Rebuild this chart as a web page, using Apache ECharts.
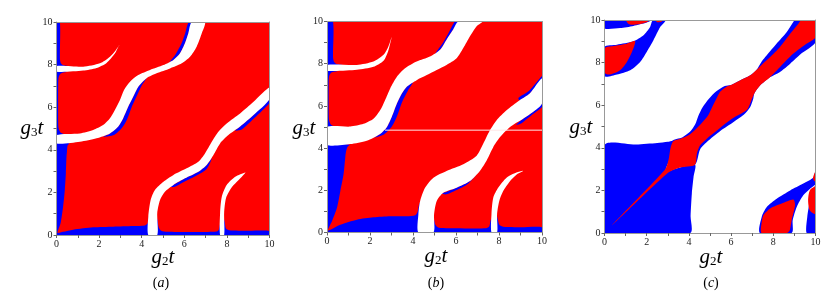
<!DOCTYPE html>
<html><head><meta charset="utf-8">
<script src="https://cdn.jsdelivr.net/npm/echarts@6/dist/echarts.min.js"></script>
<style>html,body{margin:0;padding:0;background:#fff}#c{width:830px;height:295px}</style>
</head><body><div id="c"></div>
<script>
// ---------- data (region outlines in g2t / g3t units) ----------
const X_TICKS = [0,1,2,3,4,5,6,7,8,9,10];
const PANEL_LABELS = ['a','b','c'];
const FULL = [[0,0],[10,0],[10,10],[0,10]];

// Panel (a)
const A_BLUE_TOPLEFT = [[0,10],[0.16,10],[0.16,8.3],[0.2,8.08],[0.32,7.97],[0.6,7.93],[0,7.93]];
const A_BLUE_MIDLEFT = [[0,7.67],[0.5,7.66],[0.2,7.58],[0.1,7.4],[0.08,7.1],[0.08,5.3],[0.1,5.0],[0.2,4.8],[0.45,4.71],[0,4.69]];
const A_BLUE_BOTLEFT = [[0,0],[0,4.3],[0.6,4.3],[0.52,4.2],[0.49,3.9],[0.47,3.68],[0.44,2.9],[0.39,2.11],[0.31,1.33],[0.19,0.55],[0.05,0.1],[0.3,0.15],[0.78,0.25],[1.72,0.36],[2.66,0.39],[3.6,0.42],[4.15,0.45],[4.28,0.55],[4.35,0.9],[4.4,0]];
const A_BLUE_BOTMID = [[4.65,0],[4.65,1.0],[4.74,0.7],[4.8,0.35],[4.92,0.2],[5.2,0.15],[6.7,0.14],[7.5,0.16],[7.62,0.25],[7.68,0.5],[7.75,0.5],[7.75,0]];
const A_BLUE_BOTRIGHT = [[7.8,0],[7.8,1.0],[7.9,0.6],[7.95,0.32],[8.1,0.22],[9,0.2],[10,0.19],[10,0]];
const A_BLUE_BAND1_LOW = [[2.2,4.62],[2.51,4.77],[2.9,5.09],[3.13,5.48],[3.37,6.03],[3.6,6.49],[3.84,6.96],[4.23,7.36],[4.0,7.02],[3.78,6.55],[3.52,5.98],[3.3,5.4],[3.05,5.0],[2.7,4.7]];
const A_BLUE_BAND1_UP = [[5.3,8.1],[5.49,8.22],[5.8,8.53],[6.03,9.0],[6.19,9.47],[6.35,10],[6.2,10],[6.05,9.5],[5.85,8.95],[5.6,8.5]];
const A_BLUE_BAND2_LOW = [[5.2,2.3],[5.49,2.35],[6.03,2.66],[6.66,2.97],[7.05,3.29],[7.3,3.6],[7.05,3.1],[6.6,2.8],[6.0,2.5],[5.5,2.25]];
const A_BLUE_BAND2_RIGHT = [[8.4,4.9],[8.62,5.09],[9.25,5.63],[10,6.37],[10,6.2],[9.3,5.5],[8.7,4.95]];
const A_WHITE_ARC_TL = [[0,7.93],[1.25,7.9],[2.04,8.06],[2.51,8.37],[2.8,8.7],[2.96,8.93],[2.9,8.83],[2.74,8.52],[2.35,8.08],[1.88,7.84],[1.25,7.72],[0,7.67]];
const A_WHITE_BAND1 = [[0,4.69],[1.1,4.77],[1.72,4.93],[2.19,5.16],[2.51,5.48],[2.74,5.87],[2.98,6.34],[3.17,6.81],[3.45,7.2],[3.84,7.51],[4.39,7.75],[5.02,7.98],[5.49,8.22],[5.8,8.53],[6.03,9.0],[6.19,9.47],[6.35,10],[6.97,10],[6.82,9.47],[6.58,8.84],[6.27,8.37],[5.88,8.06],[5.33,7.82],[4.7,7.59],[4.23,7.36],[3.84,6.96],[3.6,6.49],[3.37,6.03],[3.13,5.48],[2.9,5.09],[2.51,4.77],[1.88,4.54],[1.1,4.38],[0,4.3]];
const A_WHITE_BAND2 = [[4.31,0],[4.31,0.86],[4.42,1.64],[4.62,2.11],[5.02,2.5],[5.49,2.82],[6.11,3.13],[6.66,3.44],[6.97,3.83],[7.29,4.38],[7.6,4.85],[7.99,5.24],[8.62,5.71],[9.25,6.26],[10,6.93],[10,6.37],[9.25,5.63],[8.62,5.09],[8.07,4.69],[7.68,4.3],[7.37,3.76],[7.05,3.29],[6.66,2.97],[6.03,2.66],[5.49,2.35],[5.09,2.03],[4.86,1.64],[4.73,1.02],[4.73,0]];
const A_WHITE_ARC_BR = [[7.68,0],[7.68,1.02],[7.76,1.8],[7.99,2.35],[8.39,2.74],[8.87,2.94],[8.84,2.89],[8.54,2.57],[8.23,2.24],[7.96,1.74],[7.87,1.02],[7.87,0]];

// Panel (b)
const B_BLUE_TOPLEFT = [[0,10],[0.28,10],[0.28,8.3],[0.33,8.08],[0.45,7.98],[0.7,7.94],[0,7.94]];
const B_BLUE_MIDLEFT = [[0,7.67],[0.5,7.66],[0.2,7.58],[0.1,7.4],[0.08,7.1],[0.08,5.6],[0.1,5.3],[0.2,5.1],[0.45,5.0],[0,4.99]];
const B_BLUE_BOTLEFT = [[0,0],[0,4.16],[1.05,4.16],[0.95,4.05],[0.88,3.8],[0.85,3.56],[0.77,2.76],[0.62,1.96],[0.46,1.16],[0.23,0.53],[0.05,0.1],[0.62,0.37],[1.39,0.61],[2.16,0.72],[2.94,0.77],[3.71,0.77],[4.1,0.82],[4.22,1.0],[4.3,1.4],[4.35,0]];
const B_BLUE_BOTMID = [[4.9,0],[4.9,1.0],[4.98,0.6],[5.05,0.35],[5.2,0.22],[6,0.2],[7.4,0.2],[7.55,0.3],[7.62,0.6],[7.7,0.6],[7.7,0]];
const B_BLUE_BOTRIGHT = [[7.85,0],[7.85,1.0],[7.95,0.6],[8.02,0.35],[8.2,0.27],[9,0.25],[10,0.25],[10,0]];
const B_BLUE_BAND1_LOW = [[2.2,4.5],[2.47,4.67],[2.78,4.99],[3.01,5.47],[3.25,6.11],[3.48,6.59],[3.71,6.91],[4.0,7.12],[3.75,6.7],[3.5,6.2],[3.25,5.5],[3.0,5.0],[2.65,4.65]];
const B_BLUE_BAND1_UP = [[5.0,8.4],[5.26,8.66],[5.56,9.14],[5.87,9.62],[6.11,10],[5.95,10],[5.7,9.55],[5.4,9.0],[5.15,8.65]];
const B_BLUE_BAND2_LOW = [[5.2,1.95],[5.41,1.88],[6.03,2.12],[6.65,2.44],[6.95,2.75],[6.55,2.3],[6.0,2.0],[5.5,1.8]];
const B_BLUE_BAND2_RIGHT = [[8.8,5.1],[9.12,5.39],[9.58,5.71],[10,6.11],[10,5.95],[9.5,5.55],[9.0,5.15]];
const B_BLUE_BAND2_UP = [[8.96,6.27],[9.43,6.59],[10,7.3],[10,7.42],[9.4,6.72],[8.9,6.38]];
const B_WHITE_ARC_TL = [[0,7.94],[1.39,7.94],[2.16,8.1],[2.63,8.42],[2.85,8.8],[3.01,9.27],[2.95,9.0],[2.84,8.58],[2.63,8.14],[2.16,7.85],[1.39,7.71],[0,7.67]];
const B_WHITE_BAND1 = [[0,4.99],[1.08,5.02],[1.7,5.15],[2.16,5.39],[2.47,5.79],[2.7,6.27],[2.94,6.83],[3.25,7.38],[3.63,7.78],[4.17,8.1],[4.79,8.34],[5.26,8.66],[5.56,9.14],[5.87,9.62],[6.11,10],[7.23,10],[6.96,9.78],[6.65,9.3],[6.34,8.74],[6.03,8.26],[5.56,7.94],[5.1,7.7],[4.64,7.46],[4.17,7.22],[3.71,6.91],[3.48,6.59],[3.25,6.11],[3.01,5.47],[2.78,4.99],[2.47,4.67],[1.85,4.35],[1.08,4.19],[0,4.16]];
const B_WHITE_BAND2 = [[4.25,0],[4.25,0.85],[4.33,1.48],[4.56,2.12],[4.95,2.6],[5.56,2.92],[6.34,3.24],[6.96,3.64],[7.26,4.19],[7.57,4.83],[7.88,5.31],[8.35,5.79],[8.96,6.27],[9.43,6.59],[10,7.3],[10,6.11],[9.58,5.71],[9.12,5.39],[8.5,4.99],[8.04,4.51],[7.73,4.04],[7.42,3.4],[7.11,2.92],[6.65,2.44],[6.03,2.12],[5.41,1.88],[5.1,1.48],[4.98,0.85],[4.95,0]];
const B_WHITE_ARC_BR = [[7.65,0],[7.65,0.85],[7.73,1.64],[7.96,2.12],[8.35,2.6],[8.81,2.84],[9.12,2.93],[9.08,2.89],[8.81,2.74],[8.5,2.42],[8.19,1.95],[8.01,1.48],[7.91,0.85],[7.91,0]];
const B_LINE = [[2.7,4.85],[10,4.85]];

// Panel (c)
const C_BLUE_SQUARE = [[0,0],[0,4.12],[1.5,4.15],[2.5,4.22],[3.0,4.28],[3.27,4.32],[3.1,3.5],[2.9,2.9],[3.5,3.05],[4.29,3.21],[4.22,2.63],[4.14,1.85],[4.08,0.8],[4.06,0]];
const C_BLUE_BAND = [[3.2,4.3],[3.7,4.5],[4.05,4.75],[4.3,5.1],[4.45,5.5],[4.65,5.9],[4.95,6.3],[5.3,6.65],[5.7,6.9],[6.0,6.95],[6.42,7.16],[6.89,7.39],[7.2,7.65],[7.45,8.05],[7.68,8.33],[8.15,8.88],[8.63,9.42],[8.94,9.89],[9.02,10],[10,10],[10,8.95],[9.3,8.4],[8.8,7.95],[8.3,7.55],[7.84,7.31],[7.37,6.92],[7.1,6.55],[7.05,6.3],[6.9,5.9],[6.6,5.55],[6.1,5.2],[5.5,4.8],[4.85,4.27],[4.53,3.92],[4.29,3.21],[3.5,3.2]];
const C_RED_BAND = [[0.36,0.36],[2.87,2.98],[3.03,3.41],[3.14,4.04],[3.27,4.32],[3.6,4.42],[4.0,4.6],[4.3,4.85],[4.6,5.15],[4.9,5.5],[5.1,5.9],[5.3,6.3],[5.5,6.65],[5.8,6.88],[6.0,6.95],[6.42,7.16],[6.89,7.39],[7.2,7.65],[7.5,7.95],[7.84,8.25],[8.31,8.72],[8.79,9.34],[9.18,9.81],[9.34,10],[10,10],[10,9.19],[9.57,8.88],[8.94,8.41],[8.31,7.78],[7.84,7.31],[7.37,6.92],[7.1,6.55],[6.95,6.2],[6.8,5.85],[6.6,5.68],[6.1,5.4],[5.63,5.06],[5.24,4.74],[4.85,4.43],[4.53,4.12],[4.38,3.73],[4.29,3.21],[3.58,3.07],[2.97,2.79]];
const C_BLUE_TOPSTRIP = [[0,10],[0,9.6],[0.74,9.62],[1.37,9.72],[2.0,9.88],[2.24,10]];
const C_RED_TOPSTRIP = [[1.03,10],[1.1,9.85],[1.25,9.78],[1.6,9.8],[2.0,9.9],[2.15,10]];
const C_BLUE_BLOB = [[0,8.73],[0.59,8.84],[1.37,9.0],[1.85,9.28],[2.16,9.67],[2.3,10],[2.9,10],[2.64,9.67],[2.32,9.05],[2.0,8.5],[1.69,8.03],[1.22,7.64],[0.59,7.44],[0,7.37]];
const C_RED_BLOB = [[0.03,8.68],[0.43,8.78],[1.06,8.89],[1.45,9.0],[1.3,8.5],[1.06,8.03],[0.74,7.64],[0.27,7.44],[0.03,7.5]];
const C_RED_TOPSMALL = [[2.4,10],[2.5,9.9],[2.7,9.92],[2.78,10]];
const C_BLUE_ARC1 = [[7.37,0],[7.45,0.75],[7.69,1.22],[8.16,1.61],[8.8,2.0],[9.42,2.32],[9.9,2.6],[10,2.95],[10,2.3],[9.74,2.08],[9.42,1.77],[9.11,1.22],[8.92,0.6],[8.87,0]];
const C_RED_ARC1 = [[7.45,0],[7.45,0.5],[7.53,0.83],[7.85,1.15],[8.4,1.38],[8.95,1.57],[9.03,1.3],[8.87,0.6],[8.78,0.13],[8.64,0]];
const C_RED_EDGE = [[10,2.4],[9.88,2.55],[9.95,2.8],[10,2.9]];
const C_BLUE_ARC2 = [[9.58,0],[9.61,0.75],[9.74,1.53],[9.9,2.0],[10,2.25],[10,0]];
const C_RED_ARC2 = [[10,0.9],[9.73,1.06],[9.65,1.53],[9.73,2.0],[10,2.17]];

// ---------- styling / assembly ----------
const RED = '#ff0000', BLUE = '#0000ff', WHITE = '#ffffff';
const LAYERS = [
  [[FULL,RED],[A_BLUE_TOPLEFT,BLUE],[A_BLUE_MIDLEFT,BLUE],[A_BLUE_BOTLEFT,BLUE],[A_BLUE_BOTMID,BLUE],[A_BLUE_BOTRIGHT,BLUE],
   [A_BLUE_BAND1_LOW,BLUE],[A_BLUE_BAND1_UP,BLUE],[A_BLUE_BAND2_LOW,BLUE],[A_BLUE_BAND2_RIGHT,BLUE],
   [A_WHITE_ARC_TL,WHITE],[A_WHITE_BAND1,WHITE],[A_WHITE_BAND2,WHITE],[A_WHITE_ARC_BR,WHITE]],
  [[FULL,RED],[B_BLUE_TOPLEFT,BLUE],[B_BLUE_MIDLEFT,BLUE],[B_BLUE_BOTLEFT,BLUE],[B_BLUE_BOTMID,BLUE],[B_BLUE_BOTRIGHT,BLUE],
   [B_BLUE_BAND1_LOW,BLUE],[B_BLUE_BAND1_UP,BLUE],[B_BLUE_BAND2_LOW,BLUE],[B_BLUE_BAND2_RIGHT,BLUE],[B_BLUE_BAND2_UP,BLUE],
   [B_WHITE_ARC_TL,WHITE],[B_WHITE_BAND1,WHITE],[B_WHITE_BAND2,WHITE],[B_WHITE_ARC_BR,WHITE]],
  [[FULL,WHITE],[C_BLUE_SQUARE,BLUE],[C_BLUE_BAND,BLUE],[C_RED_BAND,RED],[C_BLUE_TOPSTRIP,BLUE],[C_RED_TOPSTRIP,RED],
   [C_BLUE_BLOB,BLUE],[C_RED_BLOB,RED],[C_RED_TOPSMALL,RED],[C_BLUE_ARC1,BLUE],[C_RED_ARC1,RED],[C_RED_EDGE,RED],
   [C_BLUE_ARC2,BLUE],[C_RED_ARC2,RED]]
];
const GRIDS = [
  {left:56.5, top:22, width:213, height:213},
  {left:327, top:21.5, width:215, height:211},
  {left:604.5, top:20, width:211, height:213}
];
const SERIF = 'Liberation Serif';
const grid = [], xAxis = [], yAxis = [], series = [];
GRIDS.forEach((g, p) => {
  grid.push(Object.assign({containLabel:false}, g));
  const common = {gridIndex:p, type:'value', min:X_TICKS[0], max:X_TICKS[X_TICKS.length-1], interval:1, z:10,
    splitLine:{show:false},
    axisLine:{show:true, onZero:false, lineStyle:{color:'#999', width:1}},
    axisTick:{show:true, length:3, lineStyle:{color:'#666', width:1}},
    axisLabel:{show:true, margin:4, fontSize:10, fontFamily:SERIF, color:'#222', formatter:v => (v % 2 === 0 ? String(v) : '')}};
  const frame = {gridIndex:p, type:'value', min:0, max:10, interval:1, z:10, splitLine:{show:false},
    axisLine:{show:true, onZero:false, lineStyle:{color:'#999', width:1}}, axisTick:{show:false}, axisLabel:{show:false}};
  xAxis.push(Object.assign({position:'bottom'}, common));
  xAxis.push(Object.assign({position:'top'}, frame));
  yAxis.push(Object.assign({position:'left'}, common));
  yAxis.push(Object.assign({position:'right'}, frame));
  const layers = LAYERS[p];
  series.push({
    type:'custom', xAxisIndex:2*p, yAxisIndex:2*p, silent:true, animation:false, clip:true,
    data: layers.map((l, i) => [i, 0]),
    renderItem: (params, api) => {
      const l = layers[params.dataIndex];
      const isFull = l[0] === FULL;
      return {type:'polygon', shape:{points: l[0].map(pt => api.coord(pt)), smooth: isFull ? 0 : 0.25},
        style:{fill:l[1], stroke:null}};
    }
  });
});
series.push({type:'line', xAxisIndex:2, yAxisIndex:2, data:B_LINE, symbol:'none', silent:true, animation:false,
  lineStyle:{color:'#ffe6e6', width:1}, z:3});

const richName = {
  i:{fontFamily:SERIF, fontStyle:'italic', fontSize:21, lineHeight:22, color:'#111'},
  s:{fontFamily:SERIF, fontSize:13, lineHeight:9, verticalAlign:'bottom', color:'#111'}
};
const richCap = {
  r:{fontFamily:SERIF, fontSize:14, color:'#111'},
  i:{fontFamily:SERIF, fontStyle:'italic', fontSize:14, color:'#111'}
};
const NAME_POS = [
  {x:[163,257], y:[32,128], cap:[161,283]},
  {x:[436,256], y:[304,128], cap:[436,283]},
  {x:[711,257], y:[581,127], cap:[711,283]}
];
const graphic = [];
NAME_POS.forEach((n, p) => {
  graphic.push({type:'text', x:n.x[0], y:n.x[1], z:20, style:{text:'{i|g}{s|2}{i|t}', rich:richName, align:'center', verticalAlign:'middle'}});
  graphic.push({type:'text', x:n.y[0], y:n.y[1], z:20, style:{text:'{i|g}{s|3}{i|t}', rich:richName, align:'center', verticalAlign:'middle'}});
  graphic.push({type:'text', x:n.cap[0], y:n.cap[1], z:20, style:{text:'{r|(}{i|' + PANEL_LABELS[p] + '}{r|)}', rich:richCap, align:'center', verticalAlign:'middle'}});
});

const chart = echarts.init(document.getElementById('c'), null, {renderer:'canvas'});
chart.setOption({animation:false, backgroundColor:'#fff', grid, xAxis, yAxis, series, graphic});
</script></body></html>
